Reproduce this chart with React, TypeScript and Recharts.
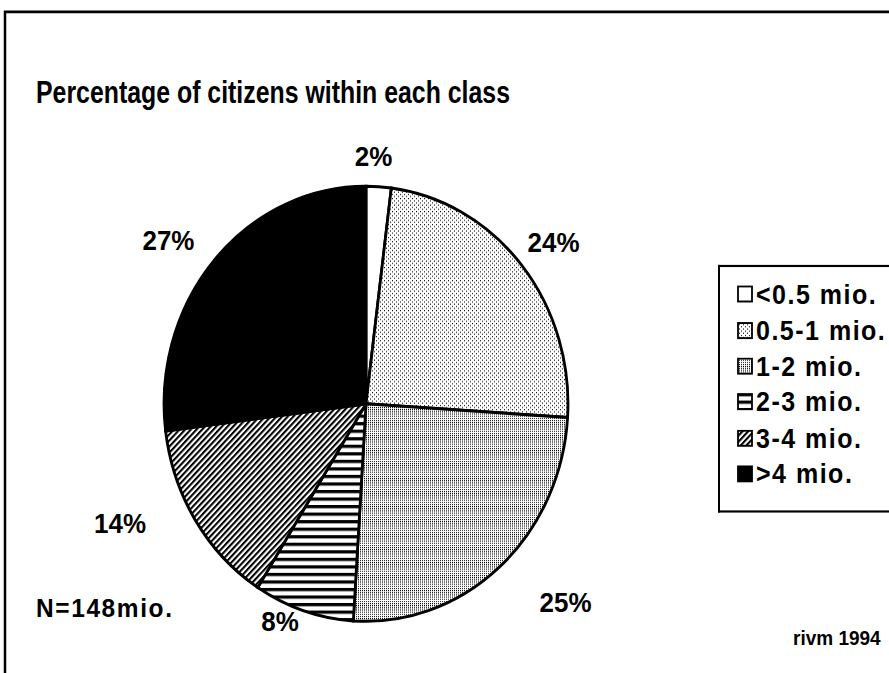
import React from 'react';
import { PieChart, Pie, Cell, Legend } from 'recharts';

const classes = ['<0.5 mio.', '0.5-1 mio.', '1-2 mio.', '2-3 mio.', '3-4 mio.', '>4 mio.'];
const shares = [2, 24, 25, 8, 14, 27];
const fills = ['#fff', 'url(#dotsLight)', 'url(#dotsDense)', 'url(#stripes)', 'url(#hatch)', '#000'];

const pieData = classes.map((name, i) => ({ name, value: shares[i] }));

// hand placed labels in the original: radius and small angle nudge per slice
const labelRadius = [230, 240, 272, 220, 270, 249];
const labelShift = [-1.7, 1.0, -5.8, 5.0, 8.0, -3.9];

const FONT = '"Liberation Sans", Arial, Helvetica, sans-serif';
const RAD = Math.PI / 180;
// the scanned original is a bit taller than wide
const STRETCH = 673 / 625;

function Patterns() {
  return (
    <svg width={0} height={0} style={{ position: 'absolute' }}>
      <defs>
        <pattern id="dotsLight" width={4} height={4} patternUnits="userSpaceOnUse">
          <rect width={4} height={4} fill="#fff" />
          <rect x={0} y={0} width={1} height={1} fill="#000" />
          <rect x={2} y={2} width={1} height={1} fill="#000" />
        </pattern>
        <pattern id="dotsDense" width={2} height={2} patternUnits="userSpaceOnUse">
          <rect width={2} height={2} fill="#fff" />
          <rect x={0} y={0} width={1} height={1} fill="#000" />
        </pattern>
        <pattern id="stripes" width={8} height={7} patternUnits="userSpaceOnUse">
          <rect width={8} height={7} fill="#fff" />
          <rect x={0} y={0} width={8} height={3} fill="#000" />
        </pattern>
        <pattern id="hatch" width={4} height={4} patternUnits="userSpaceOnUse" patternTransform="rotate(45)">
          <rect width={4} height={4} fill="#fff" />
          <rect x={0} y={0} width={2} height={4} fill="#000" />
        </pattern>
      </defs>
    </svg>
  );
}

const renderLabel = (props: any) => {
  const { cx, cy, midAngle, value, index } = props;
  const r = labelRadius[index];
  const a = (midAngle - labelShift[index]) * RAD;
  const x = cx + r * Math.cos(-a);
  const y = cy + r * Math.sin(-a);
  return (
    <text x={x} y={y} textAnchor="middle" dominantBaseline="central"
      fontFamily={FONT} fontWeight="bold" fontSize={26} fill="#000">
      {`${value}%`}
    </text>
  );
};

const renderLegend = () => (
  <div style={{ border: '2.5px solid #000', borderRight: 'none', background: '#fff', padding: '9px 0 0 17px', height: 230, width: 180, boxSizing: 'border-box' }}>
    {classes.map((name, i) => (
      <div key={name} style={{ display: 'flex', alignItems: 'center', height: 33.4 }}>
        <svg width={17} height={17} style={{ marginRight: 2 }}>
          <rect x={1} y={1} width={14} height={14} fill={fills[i]} stroke="#000" strokeWidth={1.8} />
        </svg>
        <span style={{ fontFamily: FONT, fontWeight: 'bold', fontSize: 25, letterSpacing: 1.5, color: '#000', lineHeight: 1 }}>
          {name}
        </span>
      </div>
    ))}
  </div>
);

export default function App() {
  return (
    <div style={{ position: 'absolute', left: 0, top: 0, width: 889, height: 673, background: '#fff', overflow: 'hidden' }}>
      <Patterns />
      <div style={{ position: 'absolute', left: 0, top: 0, width: 889, height: 625, transform: `scaleY(${STRETCH})`, transformOrigin: '0 0' }}>
        <PieChart width={889} height={625}>
          <Pie
            data={pieData}
            dataKey="value"
            nameKey="name"
            cx={361}
            cy={370}
            outerRadius={202}
            startAngle={90}
            endAngle={-270}
            stroke="#000"
            strokeWidth={2.8}
            label={renderLabel}
            labelLine={false}
            isAnimationActive={false}
          >
            {pieData.map((d, i) => (
              <Cell key={d.name} fill={fills[i]} />
            ))}
          </Pie>
          <Legend
            content={renderLegend}
            wrapperStyle={{ left: 718, top: 246, width: 180, bottom: 'auto', right: 'auto' }}
          />
        </PieChart>
        <svg width={889} height={625} style={{ position: 'absolute', left: 0, top: 0, pointerEvents: 'none' }}>
          <polyline points="5,625 5,11 889,11" fill="none" stroke="#000" strokeWidth={2.5} />
          <text x={36} y={96} fontFamily={FONT} fontWeight="bold" fontSize={29} textLength={474} lengthAdjust="spacingAndGlyphs" fill="#000">
            Percentage of citizens within each class
          </text>
          <text x={36} y={573} fontFamily={FONT} fontWeight="bold" fontSize={24.5} letterSpacing={1.6} fill="#000">
            N=148mio.
          </text>
          <text x={793} y={599} fontFamily={FONT} fontWeight="bold" fontSize={19} fill="#000">
            rivm 1994
          </text>
        </svg>
      </div>
    </div>
  );
}
